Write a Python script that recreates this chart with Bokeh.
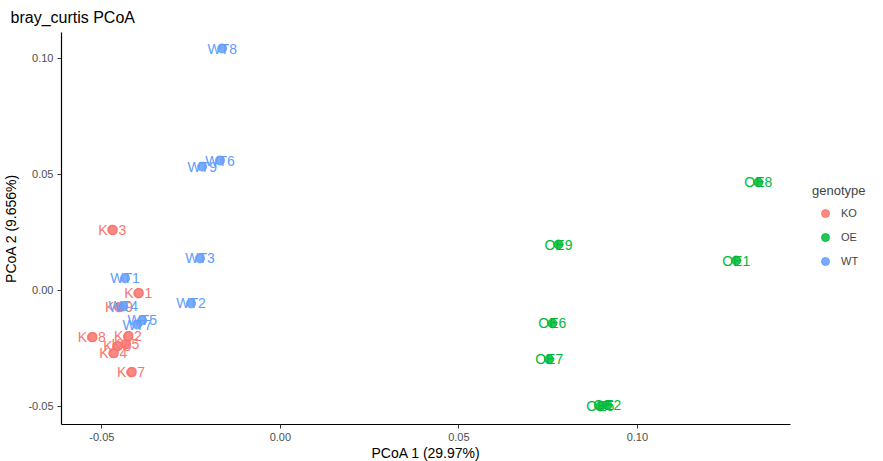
from bokeh.plotting import figure
from bokeh.models import (ColumnDataSource, Legend, LegendItem, FixedTicker,
                          PrintfTickFormatter, Range1d)
from bokeh.core.properties import value
from bokeh.embed import file_html
from bokeh.resources import INLINE

# ---- data ----
ko_names = ["KO1", "KO2", "KO3", "KO4", "KO5", "KO6", "KO7", "KO8", "KO9"]
ko_pc1 = [-0.0398, -0.0427, -0.0471, -0.0468, -0.0434, -0.0457, -0.0418, -0.0528, -0.0452]
ko_pc2 = [-0.0013, -0.0198, 0.0262, -0.0271, -0.0232, -0.0241, -0.0353, -0.0202, -0.0073]

oe_names = ["OE1", "OE2", "OE5", "OE6", "OE7", "OE8", "OE9"]
oe_pc1 = [0.1277, 0.0916, 0.0896, 0.0762, 0.0753, 0.1339, 0.0779]
oe_pc2 = [0.0129, -0.0495, -0.0500, -0.0142, -0.0297, 0.0466, 0.0198]

wt_names = ["WT1", "WT2", "WT3", "WT4", "WT5", "WT6", "WT7", "WT8", "WT9"]
wt_pc1 = [-0.0435, -0.0250, -0.0225, -0.0440, -0.0387, -0.0169, -0.0401, -0.0163, -0.0219]
wt_pc2 = [0.0052, -0.0056, 0.0138, -0.0069, -0.0129, 0.0560, -0.0147, 0.1043, 0.0534]

groups = ["KO", "OE", "WT"]
colors = ["#F8766D", "#00BA38", "#619CFF"]
x_ticks = [-0.05, 0.0, 0.05, 0.10]
y_ticks = [-0.05, 0.0, 0.05, 0.10]
title_text = "bray_curtis PCoA"

FONT = "Liberation Sans"

p = figure(frame_width=729, frame_height=392,
           x_range=Range1d(-0.0613, 0.1429), y_range=Range1d(-0.0578, 0.1112),
           output_backend="svg", toolbar_location=None, title=title_text,
           min_border_left=53, min_border_top=0, min_border_bottom=0,
           min_border_right=85)

p.title.text_font = FONT
p.title.text_font_size = "16px"
p.title.text_font_style = "normal"
p.title.text_color = "black"
p.title.offset = -51
p.title.standoff = 13

p.xgrid.visible = False
p.ygrid.visible = False
p.outline_line_color = None

for ax, ticks, lab, stand in [(p.xaxis[0], x_ticks, "PCoA 1 (29.97%)", 1),
                              (p.yaxis[0], y_ticks, "PCoA 2 (9.656%)", 6)]:
    ax.ticker = FixedTicker(ticks=ticks)
    ax.formatter = PrintfTickFormatter(format="%.2f")
    ax.minor_tick_line_color = None
    ax.major_tick_in = 0
    ax.major_tick_out = 4
    ax.major_tick_line_color = "#333333"
    ax.axis_line_color = "black"
    ax.axis_line_width = 1.2
    ax.major_label_text_font = FONT
    ax.major_label_text_font_size = "11px"
    ax.major_label_text_color = "#4D4D4D"
    ax.major_label_standoff = 4
    ax.axis_label = lab
    ax.axis_label_text_font = FONT
    ax.axis_label_text_font_size = "14px"
    ax.axis_label_text_font_style = "normal"
    ax.axis_label_text_color = "black"
    ax.axis_label_standoff = stand

items = []
for g, col, names, xs, ys in [("KO", colors[0], ko_names, ko_pc1, ko_pc2),
                              ("OE", colors[1], oe_names, oe_pc1, oe_pc2),
                              ("WT", colors[2], wt_names, wt_pc1, wt_pc2)]:
    src = ColumnDataSource(dict(x=xs, y=ys, name=names))
    p.text(x="x", y="y", text="name", source=src, text_color=col,
           text_font=value(FONT), text_font_size="14px",
           text_align="center", text_baseline="middle")
    r = p.scatter(x="x", y="y", source=src, size=9, fill_color=col,
                  line_color=col, fill_alpha=0.85, line_alpha=0.85)
    items.append(LegendItem(label=g, renderers=[r]))

legend = Legend(items=items, title="genotype", location=(22, 153),
                orientation="vertical")
legend.title_text_font = FONT
legend.title_text_font_size = "13px"
legend.title_text_font_style = "normal"
legend.label_text_font = FONT
legend.label_text_font_size = "11px"
legend.border_line_color = None
legend.background_fill_alpha = 0
legend.glyph_width = 26
legend.glyph_height = 20
legend.label_height = 20
legend.spacing = 4
legend.label_standoff = 3
legend.padding = 8
legend.margin = 0
p.add_layout(legend, "right")

open("out.html", "w").write(file_html(p, INLINE))
